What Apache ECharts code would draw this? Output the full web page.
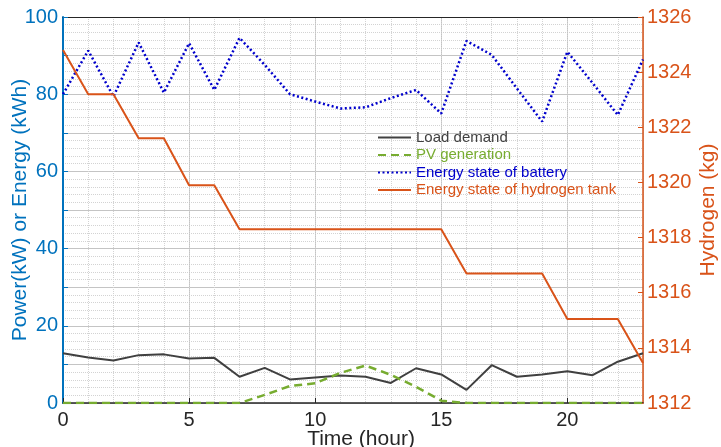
<!DOCTYPE html>
<html>
<head>
<meta charset="utf-8">
<script src="https://cdn.jsdelivr.net/npm/echarts@6/dist/echarts.min.js"></script>
<style>
  html, body { margin: 0; padding: 0; background: #fff; }
  #chart { width: 721px; height: 447px; }
</style>
</head>
<body>
<div id="chart"></div>
<script>
  // hourly values
  const hours = [0, 1, 2, 3, 4, 5, 6, 7, 8, 9, 10, 11, 12, 13, 14, 15, 16, 17, 18, 19, 20, 21, 22, 23];
  const loadDemand = [12.9, 11.8, 11.0, 12.4, 12.6, 11.5, 11.7, 6.8, 9.1, 6.1, 6.6, 7.1, 6.8, 5.2, 9.0, 7.4, 3.4, 9.8, 6.8, 7.4, 8.2, 7.2, 10.7, 12.9];
  const pvGeneration = [0, 0, 0, 0, 0, 0, 0, 0, 2.1, 4.4, 5.1, 7.8, 9.7, 7.3, 4.2, 0.6, 0, 0, 0, 0, 0, 0, 0, 0];
  const batteryEnergy = [80.0, 91.3, 79.4, 93.4, 80.4, 93.2, 81.1, 94.6, 87.6, 80.0, 78.1, 76.3, 76.6, 79.0, 81.1, 75.0, 93.8, 90.2, 81.5, 72.9, 91.0, 82.9, 74.6, 89.0];
  const hydrogenTank = [1324.8, 1323.2, 1323.2, 1321.6, 1321.6, 1319.9, 1319.9, 1318.3, 1318.3, 1318.3, 1318.3, 1318.3, 1318.3, 1318.3, 1318.3, 1318.3, 1316.7, 1316.7, 1316.7, 1316.7, 1315.05, 1315.05, 1315.05, 1313.45];
  const seriesNames = ['Load demand', 'PV generation', 'Energy state of battery', 'Energy state of hydrogen tank'];

  const colors = {
    left: '#0072bd',
    right: '#d95319',
    load: '#404040',
    pv: '#77ac30',
    battery: '#0000cc',
    hydrogen: '#d95319',
    text: '#262626',
    major: '#c4c4c4',
    minor: '#d3d3d3'
  };
  const font = 'Liberation Sans, Arial, sans-serif';

  function pairs(values) {
    return hours.map((h, i) => [h, values[i]]);
  }

  const chart = echarts.init(document.getElementById('chart'));

  chart.setOption({
    animation: false,
    textStyle: { fontFamily: font },
    grid: { left: 63, right: 78, top: 17, bottom: 44, containLabel: false, outerBoundsMode: 'none' },
    legend: {
      orient: 'vertical',
      left: 377,
      top: 130,
      itemWidth: 33,
      itemHeight: 14,
      itemGap: 2.5,
      padding: 0,
      itemStyle: { opacity: 0, borderWidth: 0 },
      textStyle: { fontSize: 15, fontFamily: font },
      data: [
        { name: seriesNames[0], textStyle: { color: colors.load } },
        { name: seriesNames[1], textStyle: { color: colors.pv } },
        { name: seriesNames[2], textStyle: { color: colors.battery } },
        { name: seriesNames[3], textStyle: { color: colors.hydrogen } }
      ]
    },
    xAxis: [
      {
        type: 'value',
        min: 0,
        max: 23,
        interval: 5,
        name: 'Time (hour)',
        nameLocation: 'middle',
        nameGap: 26,
        nameMoveOverlap: false,
        nameTextStyle: { fontSize: 21, color: colors.text, fontFamily: font, padding: [0, 0, 0, 16] },
        axisLine: { show: true, onZero: false, lineStyle: { color: colors.text, width: 1.5 } },
        axisTick: { show: true, inside: true, length: 5, lineStyle: { color: colors.text } },
        axisLabel: { fontSize: 20, color: colors.text, margin: 7, showMaxLabel: false },
        splitLine: { show: true, lineStyle: { color: colors.major, width: 1 } }
      },
      {
        // hourly dotted grid and top frame line
        type: 'value',
        position: 'top',
        min: 0,
        max: 23,
        interval: 1,
        axisLine: { show: true, onZero: false, lineStyle: { color: colors.text, width: 1 } },
        axisTick: { show: false },
        axisLabel: { show: false },
        splitLine: { show: true, lineStyle: { color: colors.minor, type: 'dotted', width: 1 } },
        z: 0
      }
    ],
    yAxis: [
      {
        type: 'value',
        min: 0,
        max: 100,
        interval: 10,
        name: 'Power(kW) or Energy (kWh)',
        nameLocation: 'middle',
        nameGap: 32,
        nameMoveOverlap: false,
        nameTextStyle: { fontSize: 21, color: colors.left, fontFamily: font },
        axisLine: { show: true, onZero: false, lineStyle: { color: colors.left, width: 2 } },
        axisTick: { show: true, inside: true, length: 5, lineStyle: { color: colors.left } },
        axisLabel: {
          fontSize: 20,
          color: colors.left,
          margin: 5,
          formatter: v => (v % 20 === 0 ? String(v) : '')
        },
        splitLine: { show: true, lineStyle: { color: colors.major, width: 1 } },
        minorTick: { show: false, splitNumber: 5 },
        minorSplitLine: { show: true, lineStyle: { color: colors.minor, type: 'dotted', width: 1 } }
      },
      {
        type: 'value',
        position: 'right',
        min: 1312,
        max: 1326,
        interval: 2,
        name: 'Hydrogen (kg)',
        nameLocation: 'middle',
        nameGap: 55,
        nameMoveOverlap: false,
        nameTextStyle: { fontSize: 21, color: colors.right, fontFamily: font },
        axisLine: { show: true, onZero: false, lineStyle: { color: colors.right, width: 1.5 } },
        axisTick: { show: true, inside: true, length: 5, lineStyle: { color: colors.right } },
        axisLabel: { fontSize: 20, color: colors.right, margin: 4, formatter: v => String(v) },
        splitLine: { show: false }
      }
    ],
    series: [
      {
        name: seriesNames[0],
        type: 'line',
        xAxisIndex: 0,
        yAxisIndex: 0,
        symbol: 'none',
        data: pairs(loadDemand),
        lineStyle: { color: colors.load, width: 2 },
        itemStyle: { color: colors.load },
        z: 4
      },
      {
        name: seriesNames[1],
        type: 'line',
        xAxisIndex: 0,
        yAxisIndex: 0,
        symbol: 'none',
        data: pairs(pvGeneration),
        lineStyle: { color: colors.pv, width: 2.5, type: [8, 5] },
        itemStyle: { color: colors.pv },
        z: 5
      },
      {
        name: seriesNames[2],
        type: 'line',
        xAxisIndex: 0,
        yAxisIndex: 0,
        symbol: 'none',
        data: pairs(batteryEnergy),
        lineStyle: { color: colors.battery, width: 2.5, type: [2, 2.5] },
        itemStyle: { color: colors.battery },
        z: 4
      },
      {
        name: seriesNames[3],
        type: 'line',
        xAxisIndex: 0,
        yAxisIndex: 1,
        symbol: 'none',
        data: pairs(hydrogenTank),
        lineStyle: { color: colors.hydrogen, width: 2 },
        itemStyle: { color: colors.hydrogen },
        z: 4
      }
    ]
  });
</script>
</body>
</html>
